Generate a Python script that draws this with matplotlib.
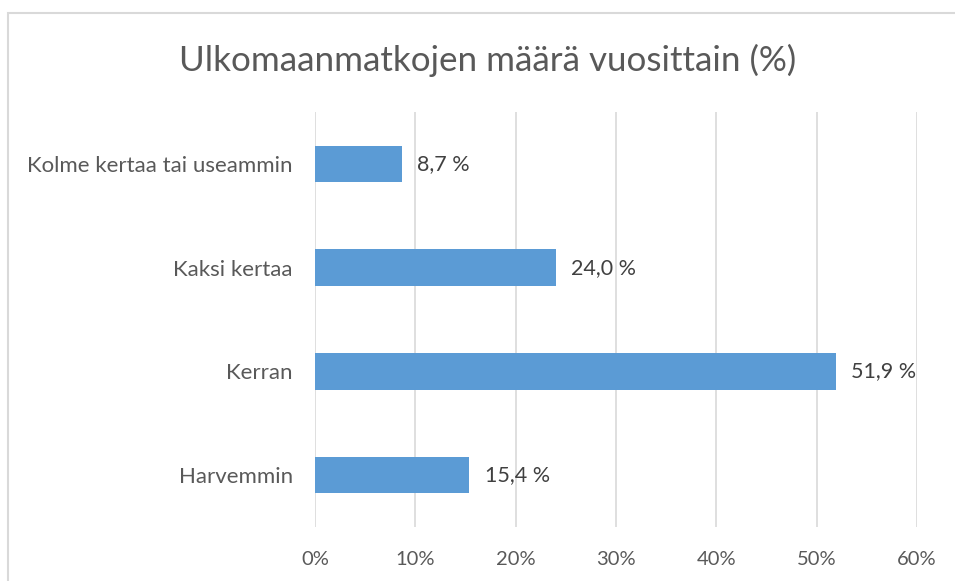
import matplotlib.pyplot as plt
from matplotlib.patches import Rectangle
from matplotlib.ticker import FuncFormatter

kategoriat = ['Harvemmin', 'Kerran', 'Kaksi kertaa', 'Kolme kertaa tai useammin']
osuudet = [15.4, 51.9, 24.0, 8.7]
x_tikit = [0, 10, 20, 30, 40, 50, 60]

harmaa = '#595959'
plt.rcParams['font.family'] = ['Lato', 'DejaVu Sans']

fig = plt.figure(figsize=(9.55, 5.81), dpi=100)
ax = fig.add_axes([0.3298, 0.0929, 0.6304, 0.7143])

# kehys kuvan ympärillä
fig.patches.append(Rectangle((8 / 955, -0.1), 1.1, 1 - 13 / 581 + 0.1,
                             transform=fig.transFigure, fill=False,
                             edgecolor='#D9D9D9', linewidth=1.5))

pylvaat = ax.barh(kategoriat, osuudet, height=0.35, color='#5B9BD5', zorder=3)
for p, v in zip(pylvaat, osuudet):
    ax.text(p.get_width() + 1.5, p.get_y() + p.get_height() / 2,
            f'{v:.1f} %'.replace('.', ','), va='center', ha='left',
            fontsize=15.5, color='#404040')

ax.set_xlim(0, 60)
ax.set_ylim(-0.5, 3.5)
ax.set_xticks(x_tikit)
ax.xaxis.set_major_formatter(FuncFormatter(lambda v, _: f'{v:.0f}%'))
ax.grid(axis='x', color='#D9D9D9', linewidth=1.2, zorder=0)
for s in ax.spines.values():
    s.set_visible(False)
ax.tick_params(axis='x', length=0, labelsize=14.5, colors=harmaa, pad=17)
ax.tick_params(axis='y', length=0, labelsize=16, colors=harmaa, pad=16)

fig.text(0.5105, 1 - 60 / 581, 'Ulkomaanmatkojen määrä vuosittain (%)',
         ha='center', va='center', fontsize=25.2, color=harmaa)

fig.savefig('out.png', dpi=100)
